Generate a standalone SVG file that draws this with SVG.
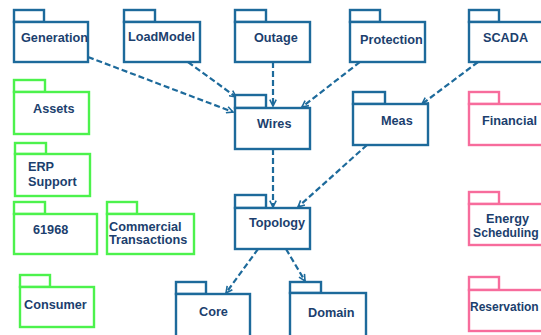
<svg xmlns="http://www.w3.org/2000/svg" width="541" height="335" viewBox="0 0 541 335">
<defs>
<style>
.b{fill:#fff;stroke:#1d6a9b;stroke-width:2.4}
.g{fill:#fff;stroke:#4cf24c;stroke-width:2.4}
.p{fill:#fff;stroke:#f76c9c;stroke-width:2.4}
text{font-family:"Liberation Sans",Arial,sans-serif;font-size:12.7px;font-weight:bold;fill:#1c3f6e}
.c{fill:none;stroke:#1d6a9b;stroke-width:2.2;stroke-dasharray:6,3}
</style>
<marker id="ah" viewBox="0 0 10 10" refX="9" refY="5" markerWidth="8" markerHeight="8" markerUnits="userSpaceOnUse" orient="auto">
<path d="M1,1 L9,5 L1,9" fill="none" stroke="#1d6a9b" stroke-width="2" stroke-dasharray="none"/>
</marker>
</defs>
<rect width="541" height="335" fill="#fff"/>
<g id="connectors">
<line class="c" x1="88" y1="57" x2="233" y2="112" marker-end="url(#ah)"/>
<line class="c" x1="188" y1="62" x2="236" y2="97" marker-end="url(#ah)"/>
<line class="c" x1="273" y1="62" x2="273" y2="106" marker-end="url(#ah)"/>
<line class="c" x1="360" y1="62" x2="302" y2="107" marker-end="url(#ah)"/>
<line class="c" x1="478" y1="62" x2="422" y2="104" marker-end="url(#ah)"/>
<line class="c" x1="273" y1="149" x2="273" y2="207" marker-end="url(#ah)"/>
<line class="c" x1="367" y1="145" x2="298" y2="207" marker-end="url(#ah)"/>
<line class="c" x1="258" y1="249" x2="226" y2="293" marker-end="url(#ah)"/>
<line class="c" x1="286" y1="249" x2="305" y2="281" marker-end="url(#ah)"/>
</g>
<g id="Generation"><rect class="b" x="14" y="10" width="30" height="12"/><rect class="b" x="14" y="22" width="74" height="40"/><text x="21" y="42">Generation</text></g>
<g id="LoadModel"><rect class="b" x="124" y="10" width="31" height="12"/><rect class="b" x="124" y="22" width="76" height="40"/><text x="128" y="41">LoadModel</text></g>
<g id="Outage"><rect class="b" x="235" y="10" width="31" height="12"/><rect class="b" x="235" y="22" width="75" height="40"/><text x="254" y="42">Outage</text></g>
<g id="Protection"><rect class="b" x="350" y="10" width="30" height="12"/><rect class="b" x="350" y="22" width="75" height="40"/><text x="360" y="44">Protection</text></g>
<g id="SCADA"><rect class="b" x="469" y="10" width="30" height="12"/><rect class="b" x="469" y="22" width="80" height="40"/><text x="483" y="42">SCADA</text></g>
<g id="Wires"><rect class="b" x="235" y="95" width="31" height="13"/><rect class="b" x="235" y="108" width="75" height="41"/><text x="257" y="128">Wires</text></g>
<g id="Meas"><rect class="b" x="353" y="92" width="32" height="12"/><rect class="b" x="353" y="104" width="75" height="41"/><text x="381" y="125">Meas</text></g>
<g id="Topology"><rect class="b" x="235" y="195" width="31" height="13"/><rect class="b" x="235" y="208" width="75" height="41"/><text x="249" y="227">Topology</text></g>
<g id="Core"><rect class="b" x="176" y="282" width="30" height="12"/><rect class="b" x="176" y="294" width="74" height="45"/><text x="199" y="316">Core</text></g>
<g id="Domain"><rect class="b" x="290" y="282" width="31" height="11"/><rect class="b" x="290" y="293" width="76" height="46"/><text x="308" y="317">Domain</text></g>
<g id="Assets"><rect class="g" x="14" y="80" width="31" height="12"/><rect class="g" x="14" y="92" width="75" height="42"/><text x="33" y="113">Assets</text></g>
<g id="ERPSupport"><rect class="g" x="15" y="143" width="31" height="11"/><rect class="g" x="15" y="154" width="75" height="42"/><text x="28" y="171">ERP</text><text x="28" y="186">Support</text></g>
<g id="P61968"><rect class="g" x="14" y="202" width="31" height="12"/><rect class="g" x="14" y="214" width="83" height="40"/><text x="33" y="234">61968</text></g>
<g id="CommercialTransactions"><rect class="g" x="107" y="202" width="30" height="12"/><rect class="g" x="107" y="214" width="87" height="40"/><text x="109" y="231">Commercial</text><text x="109" y="244">Transactions</text></g>
<g id="Consumer"><rect class="g" x="20" y="275" width="30" height="12"/><rect class="g" x="20" y="287" width="74" height="40"/><text x="24" y="309">Consumer</text></g>
<g id="Financial"><rect class="p" x="469" y="92" width="30" height="12"/><rect class="p" x="469" y="104" width="80" height="41"/><text x="482" y="125">Financial</text></g>
<g id="EnergyScheduling"><rect class="p" x="469" y="192" width="30" height="12"/><rect class="p" x="469" y="204" width="80" height="41"/><text x="486" y="223">Energy</text><text x="473" y="237" style="font-size:12.2px">Scheduling</text></g>
<g id="Reservation"><rect class="p" x="469" y="277" width="30" height="13"/><rect class="p" x="469" y="290" width="80" height="41"/><text x="470" y="311" style="font-size:12px">Reservation</text></g>
</svg>
